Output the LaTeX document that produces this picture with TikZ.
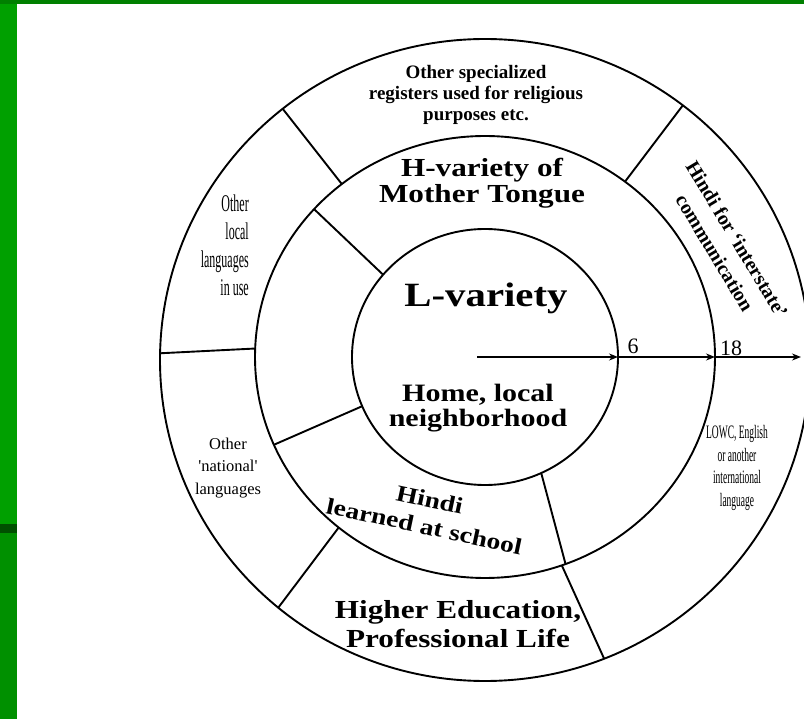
\documentclass[tikz,border=0pt]{standalone}
\usepackage{fontspec}
\setmainfont{Liberation Serif}
\newfontfamily\widefont[FakeStretch=1.2]{Liberation Serif}
\newfontfamily\condfont[FakeStretch=0.5]{Liberation Serif}
\usetikzlibrary{calc,arrows.meta}
\definecolor{topgreen}{RGB}{0,128,0}
\definecolor{leftgreen}{RGB}{0,160,0}
\definecolor{leftgreenlow}{RGB}{0,144,0}
\definecolor{darkband}{RGB}{0,80,0}
\tikzset{
  ring/.style={line width=1.9pt},
  divider/.style={line width=1.9pt},
  arrowline/.style={line width=1.5pt,-{Stealth[length=9pt,width=7pt]}},
  lbl/.style={inner sep=0pt,align=center},
  widebold/.style={lbl,font=\widefont\bfseries\fontsize{#1}{#1}\selectfont},
  smallbold/.style={lbl,font=\bfseries\fontsize{19}{21}\selectfont},
  condtext/.style={inner sep=0pt,font=\condfont\fontsize{#1}{#1}\selectfont},
  plaintext/.style={lbl,font=\fontsize{16.5}{22.5}\selectfont},
  numlbl/.style={inner sep=0pt,font=\fontsize{22}{22}\selectfont}
}
\begin{document}
\begin{tikzpicture}[x=1pt,y=-1pt]
\useasboundingbox (0,0) rectangle (804,719);
\fill[white] (0,0) rectangle (804,719);
\fill[topgreen] (0,0) rectangle (804,4);
\fill[leftgreen] (0,4) rectangle (17,524);
\fill[darkband] (0,524) rectangle (17,533);
\fill[leftgreenlow] (0,533) rectangle (17,719);

\coordinate (C) at (485,357);
\coordinate (CO) at (485,360);
\draw[ring] (C) ellipse [x radius=133pt, y radius=128pt];
\draw[ring] (C) ellipse [x radius=230pt, y radius=221pt];
\draw[ring] (CO) ellipse [x radius=325pt, y radius=321pt];

% outer ring dividers
\coordinate (om1) at ($(C)+(128.5:230pt and 221pt)$);
\coordinate (oo1) at ($(CO)+(128.5:325pt and 321pt)$);
\coordinate (om2) at ($(C)+(52.5:230pt and 221pt)$);
\coordinate (oo2) at ($(CO)+(52.5:325pt and 321pt)$);
\coordinate (om3) at ($(C)+(177.8:230pt and 221pt)$);
\coordinate (oo3) at ($(CO)+(178.8:325pt and 321pt)$);
\coordinate (om4) at ($(C)+(230.5:230pt and 221pt)$);
\coordinate (oo4) at ($(CO)+(230.5:325pt and 321pt)$);
\coordinate (om5) at ($(C)+(289.5:230pt and 221pt)$);
\coordinate (oo5) at ($(CO)+(291.5:325pt and 321pt)$);
\draw[divider] (om1) -- (oo1);
\draw[divider] (om2) -- (oo2);
\draw[divider] (om3) -- (oo3);
\draw[divider] (om4) -- (oo4);
\draw[divider] (om5) -- (oo5);

% middle ring dividers
\coordinate (mi1) at ($(C)+(140:133pt and 128pt)$);
\coordinate (mm1) at ($(C)+(138:230pt and 221pt)$);
\coordinate (mi2) at ($(C)+(202.6:133pt and 128pt)$);
\coordinate (mm2) at ($(C)+(203.4:230pt and 221pt)$);
\coordinate (mi3) at ($(C)+(295:133pt and 128pt)$);
\coordinate (mm3) at ($(C)+(290.5:230pt and 221pt)$);
\draw[divider] (mi1) -- (mm1);
\draw[divider] (mi2) -- (mm2);
\draw[divider] (mi3) -- (mm3);

% age arrow
\coordinate (a0) at (477,357);
\coordinate (a1) at ($(C)+(0:133pt and 128pt)$);
\coordinate (a2) at ($(C)+(0:230pt and 221pt)$);
\coordinate (a3) at (801,357);
\draw[arrowline] (a0) -- (a1);
\draw[arrowline] (a1) -- (a2);
\draw[arrowline] (a2) -- (a3);
\node[numlbl] (n6) at (633,346) {6};
\node[numlbl] (n18) at (731,348) {18};

% texts
\node[smallbold] (spec) at (476,95) {Other specialized\\registers used for religious\\purposes etc.};
\node[widebold=26,text height=18pt,text depth=6pt] (hvar) at (482,197) {H-variety of\\Mother Tongue};
\node[widebold=34] (lvar) at (486,298) {L-variety};
\node[widebold=25] (home) at (478,408) {Home, local\\neighborhood};
\node[lbl,font=\widefont\bfseries\fontsize{23}{27}\selectfont,rotate=-12] (hindi) at (427,513) {Hindi\\learned at school};
\node[lbl,font=\widefont\bfseries\fontsize{26}{29}\selectfont] (higher) at (458,624) {Higher Education,\\Professional Life};
\node[condtext=24,align=right,anchor=east,font=\condfont\fontsize{24}{28}\selectfont] (local) at (249,245) {Other\\local\\languages\\in use};
\node[plaintext] (national) at (228,468) {Other\\\textquotesingle national\textquotesingle\\languages};
\node[lbl,font=\bfseries\fontsize{20}{26}\selectfont,rotate=-59] (inter) at (726,246) {Hindi for `interstate'\\communication};
\node[condtext=19,align=center,font=\condfont\fontsize{19}{22.5}\selectfont] (lowc) at (737,468) {LOWC, English\\or another\\international\\language};
\end{tikzpicture}
\end{document}
